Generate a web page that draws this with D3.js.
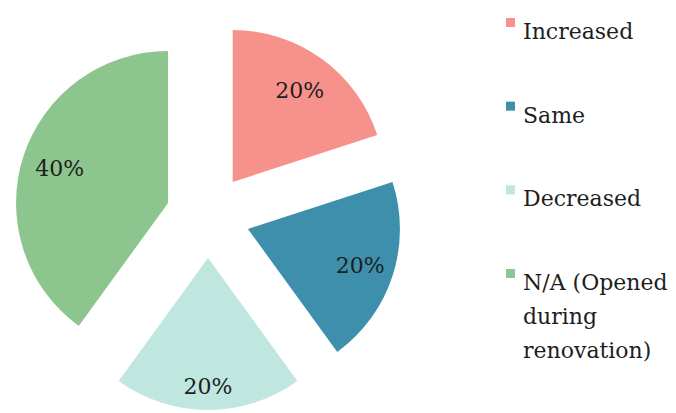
<!DOCTYPE html>
<html>
<head>
<meta charset="utf-8">
<script src="https://cdn.jsdelivr.net/npm/d3@7"></script>
<style>
  body { margin: 0; background: #fff; }
  svg text { fill: #1e1e1e; }
</style>
</head>
<body>
<svg width="676" height="413"></svg>
<script>
// data
const categories = ["Increased", "Same", "Decreased", "N/A (Opened during renovation)"];
const values = [20, 20, 20, 40];
const colors = ["#f7918b", "#3d8fab", "#bfe6df", "#8cc58d"];
// legend lines (wrapped the way the original wraps them)
const legendLines = [["Increased"], ["Same"], ["Decreased"], ["N/A (Opened", "during", "renovation)"]];

const svg = d3.select("svg");
const cx = 208, cy = 216;
const radius = 152;
const explode = 42;
const labelRadius = [114, 118, 128, 114];
const font = "'DejaVu Serif', serif";

const pie = d3.pie().sort(null).value(d => d.value);
const arc = d3.arc().innerRadius(0).outerRadius(radius);

const data = categories.map((c, i) => ({ name: c, value: values[i], color: colors[i] }));
const arcs = pie(data);
const total = d3.sum(values);

const g = svg.append("g").attr("transform", `translate(${cx},${cy})`);

const slice = g.selectAll("g.slice")
  .data(arcs)
  .enter()
  .append("g")
  .attr("class", "slice")
  .attr("transform", d => {
    const a = (d.startAngle + d.endAngle) / 2;
    return `translate(${Math.sin(a) * explode},${-Math.cos(a) * explode})`;
  });

slice.append("path")
  .attr("d", arc)
  .attr("fill", d => d.data.color);

slice.append("text")
  .attr("text-anchor", "middle")
  .style("font-family", font)
  .attr("font-size", 22)
  .attr("dy", "0.35em")
  .attr("x", (d, i) => Math.sin((d.startAngle + d.endAngle) / 2) * labelRadius[i])
  .attr("y", (d, i) => -Math.cos((d.startAngle + d.endAngle) / 2) * labelRadius[i])
  .text(d => Math.round(d.value / total * 100) + "%");

// legend
const legendY = d3.scalePoint().domain(categories).range([39, 290]);

const legend = svg.append("g")
  .selectAll("g")
  .data(categories)
  .enter()
  .append("g")
  .attr("transform", d => `translate(506,${legendY(d)})`);

legend.append("rect")
  .attr("x", 0)
  .attr("y", -21)
  .attr("width", 9)
  .attr("height", 9)
  .attr("fill", (d, i) => colors[i]);

legend.append("text")
  .attr("x", 17)
  .style("font-family", font)
  .attr("font-size", 22)
  .selectAll("tspan")
  .data((d, i) => legendLines[i])
  .enter()
  .append("tspan")
  .attr("x", 17)
  .attr("dy", (d, i) => i === 0 ? 0 : 34)
  .text(d => d);
</script>
</body>
</html>
